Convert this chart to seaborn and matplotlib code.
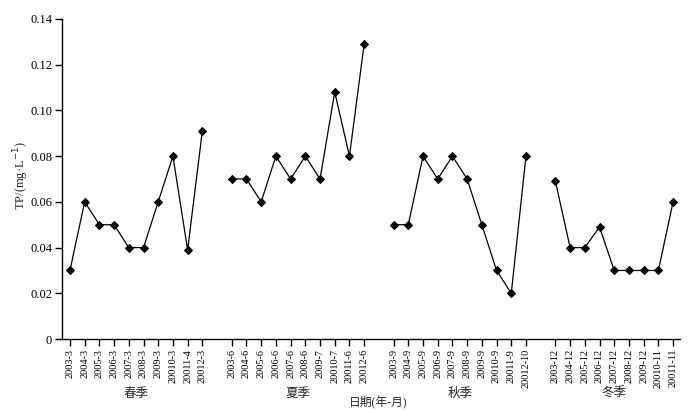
import numpy as np
import pandas as pd
import matplotlib
matplotlib.use("Agg")
import matplotlib.pyplot as plt
import matplotlib.transforms as mtransforms
import seaborn as sns

# data
seasons = ["春季", "夏季", "秋季", "冬季"]
spring_dates = ["2003-3", "2004-3", "2005-3", "2006-3", "2007-3", "2008-3", "2009-3", "20010-3", "20011-4", "20012-3"]
spring_tp = [0.030, 0.060, 0.050, 0.050, 0.040, 0.040, 0.060, 0.080, 0.039, 0.091]
summer_dates = ["2003-6", "2004-6", "2005-6", "2006-6", "2007-6", "2008-6", "2009-7", "20010-7", "20011-6", "20012-6"]
summer_tp = [0.070, 0.070, 0.060, 0.080, 0.070, 0.080, 0.070, 0.108, 0.080, 0.129]
autumn_dates = ["2003-9", "2004-9", "2005-9", "2006-9", "2007-9", "2008-9", "2009-9", "20010-9", "20011-9", "20012-10"]
autumn_tp = [0.050, 0.050, 0.080, 0.070, 0.080, 0.070, 0.050, 0.030, 0.020, 0.080]
winter_dates = ["2003-12", "2004-12", "2005-12", "2006-12", "2007-12", "2008-12", "2009-12", "20010-11", "20011-11"]
winter_tp = [0.069, 0.040, 0.040, 0.049, 0.030, 0.030, 0.030, 0.030, 0.060]

groups = [(spring_dates, spring_tp), (summer_dates, summer_tp),
          (autumn_dates, autumn_tp), (winter_dates, winter_tp)]

# build one table, leaving a gap of one slot between seasons
rows = []
pos = 0
centers = []
for season, (dates, tp) in zip(seasons, groups):
    start = pos
    for d, v in zip(dates, tp):
        rows.append({"season": season, "date": d, "pos": pos, "tp": v})
        pos += 1
    centers.append((start + pos - 1) / 2)
    pos += 1
df = pd.DataFrame(rows)

sns.set_style("ticks")
plt.rcParams["font.family"] = ["Liberation Serif", "Noto Sans CJK SC"]
plt.rcParams["axes.unicode_minus"] = False

fig = plt.figure(figsize=(6.95, 4.11), dpi=100)
ax = fig.add_axes([0.089, 0.175, 0.889, 0.779])

sns.lineplot(data=df, x="pos", y="tp", units="season", estimator=None,
             color="black", linewidth=0.9, marker="D", markersize=4.5,
             markeredgecolor="black", ax=ax, legend=False)

ax.set_xlim(-0.55, 41.45)
ax.set_ylim(0, 0.14)
ax.set_yticks(np.arange(0, 0.141, 0.02))
ax.set_yticklabels(["0"] + [f"{v:.2f}" for v in np.arange(0.02, 0.141, 0.02)], fontsize=9)
ax.set_xticks(df["pos"])
ax.set_xticklabels(df["date"], rotation=90, fontsize=7.4)
ax.tick_params(axis="both", direction="out", length=5, width=1, colors="black", pad=2)
ax.set_xlabel("")
ax.set_ylabel("TP/(mg·L$^{-1}$)", fontsize=9)
ax.yaxis.set_label_coords(-0.05, 0.51)
sns.despine(ax=ax)
for s in ["left", "bottom"]:
    ax.spines[s].set_linewidth(1)
    ax.spines[s].set_color("black")

trans = mtransforms.blended_transform_factory(ax.transData, fig.transFigure)
for season, c in zip(seasons, centers):
    ax.text(c, 1 - 394 / 411, season, transform=trans, ha="center", va="center", fontsize=9)
fig.text(378 / 695, 1 - 403 / 411, "日期(年-月)", ha="center", va="center", fontsize=8.5)

fig.savefig("out.png", dpi=100)
